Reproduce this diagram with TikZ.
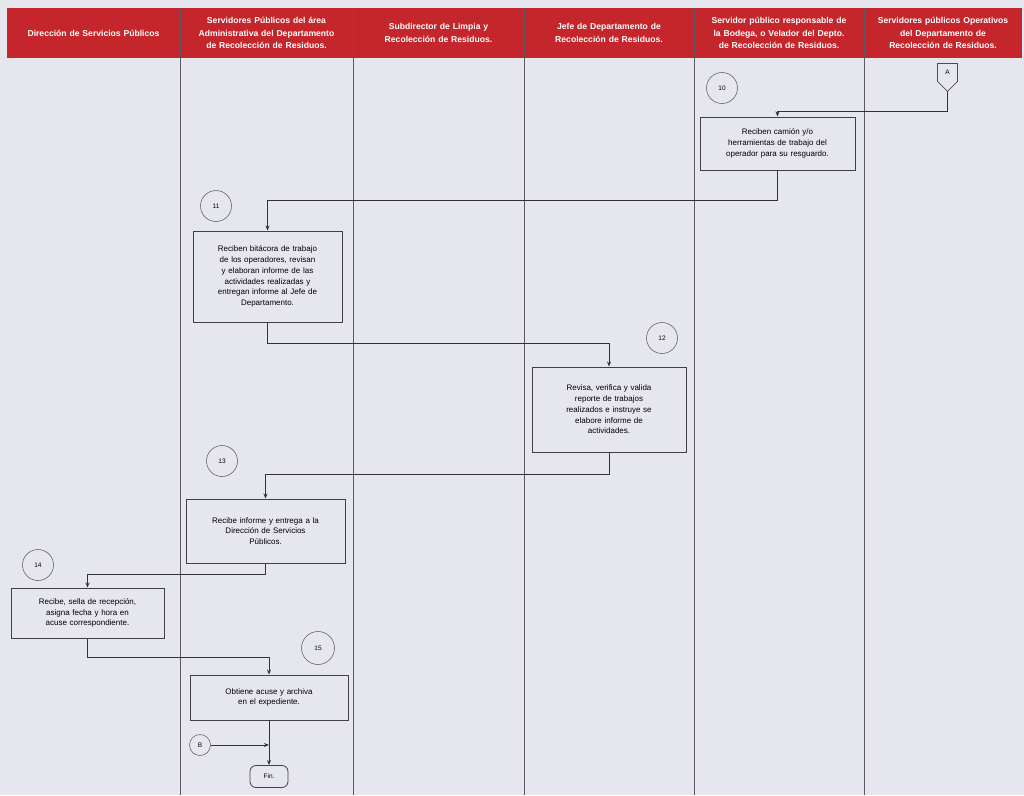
\documentclass[tikz,border=0pt]{standalone}
\usepackage{fontspec}
\setmainfont{Liberation Sans}
\usetikzlibrary{arrows.meta,shapes.symbols}
\definecolor{bg}{HTML}{E6E6EE}
\definecolor{hdr}{HTML}{C4262B}
\definecolor{lanel}{HTML}{5A5A60}
\tikzset{
  hdrtext/.style={text=white,font=\bfseries\fontsize{8.6}{12.5}\selectfont,text width=170pt,align=center,inner sep=0pt},
  procbox/.style={draw=black!75,line width=1pt,fill=bg,font=\fontsize{8}{10.8}\selectfont,align=center,inner sep=2pt},
  stepnum/.style={circle,draw=black!60,line width=0.6pt,minimum size=31pt,inner sep=0pt,font=\fontsize{6.5}{7}\selectfont},
  conn/.style={draw=black!80,line width=0.8pt,-{Stealth[length=5pt,width=4pt]}},
  lane/.style={draw=lanel,line width=1pt}
}
\begin{document}
\begin{tikzpicture}[x=1pt,y=-1pt]
\useasboundingbox (0,0) rectangle (1024,795);
\fill[bg] (0,0) rectangle (1024,795);
% header
\fill[hdr] (7,8) rectangle (1022,58);
% lane lines
\foreach \x in {180,353,524,694,864} {\draw[lane] (\x,8) -- (\x,795);}
% header texts
\node[hdrtext] (h1) at (93.5,33) {Dirección de Servicios Públicos};
\node[hdrtext] (h2) at (266.5,33) {Servidores Públicos del área\\Administrativa del Departamento\\de Recolección de Residuos.};
\node[hdrtext] (h3) at (438.5,33) {Subdirector de Limpia y\\Recolección de Residuos.};
\node[hdrtext] (h4) at (609,33) {Jefe de Departamento de\\Recolección de Residuos.};
\node[hdrtext] (h5) at (779,33) {Servidor público responsable de\\la Bodega, o Velador del Depto.\\de Recolección de Residuos.};
\node[hdrtext] (h6) at (943,33) {Servidores públicos Operativos\\del Departamento de\\Recolección de Residuos.};
% off-page connector A
\node[shape=signal,signal to=south,signal from=nowhere,draw=black!70,line width=0.8pt,fill=bg,minimum width=20pt,minimum height=21pt,inner sep=1pt,font=\fontsize{6.5}{7}\selectfont] (A) at (947.5,72.5) {A};
% step numbers
\node[stepnum] (n10) at (722,88) {10};
\node[stepnum] (n11) at (216,206) {11};
\node[stepnum] (n12) at (662,338) {12};
\node[stepnum] (n13) at (222,461) {13};
\node[stepnum] (n14) at (38,565) {14};
\node[stepnum,minimum size=33pt] (n15) at (318,648) {15};
% process boxes
\node[procbox,minimum width=155pt,minimum height=53pt,text width=145pt] (b10) at (777.5,143.5) {Reciben camión y/o\\herramientas de trabajo del\\operador para su resguardo.};
\node[procbox,minimum width=149pt,minimum height=91pt,text width=140pt] (b11) at (267.5,276.5) {Reciben bitácora de trabajo\\de los operadores, revisan\\y elaboran informe de las\\actividades realizadas y\\entregan informe al Jefe de\\Departamento.};
\node[procbox,minimum width=154pt,minimum height=85pt,text width=145pt] (b12) at (609,409.5) {Revisa, verifica y valida\\reporte de trabajos\\realizados e instruye se\\elabore informe de\\actividades.};
\node[procbox,minimum width=159pt,minimum height=64pt,text width=150pt] (b13) at (265.5,531) {Recibe informe y entrega a la\\Dirección de Servicios\\Públicos.};
\node[procbox,minimum width=153pt,minimum height=50pt,text width=145pt] (b14) at (87.5,613) {Recibe, sella de recepción,\\asigna fecha y hora en\\acuse correspondiente.};
\node[procbox,minimum width=158pt,minimum height=45pt,text width=150pt] (b15) at (269,697.5) {Obtiene acuse y archiva\\en el expediente.};
% end
\node[draw=black!75,line width=0.8pt,rounded corners=6pt,fill=bg,minimum width=38pt,minimum height=22pt,inner sep=0pt,font=\fontsize{6.5}{7}\selectfont] (fin) at (269,776.5) {Fin.};
\node[circle,draw=black!60,line width=0.6pt,minimum size=21pt,inner sep=0pt,font=\fontsize{6.5}{7}\selectfont] (B) at (200,745) {B};
\coordinate (join) at (269,745);
% connectors
\draw[conn] (A.south) -- ++(0,19) -| (b10.north);
\draw[conn] (b10.south) -- ++(0,30) -| (b11.north);
\draw[conn] (b11.south) -- ++(0,21) -| (b12.north);
\draw[conn] (b12.south) -- ++(0,22) -| (b13.north);
\draw[conn] (b13.south) -- ++(0,11) -| (b14.north);
\draw[conn] (b14.south) -- ++(0,19) -| (b15.north);
\draw[conn] (b15.south) -- (fin.north);
\draw[conn] (B.east) -- (join);
\end{tikzpicture}
\end{document}
